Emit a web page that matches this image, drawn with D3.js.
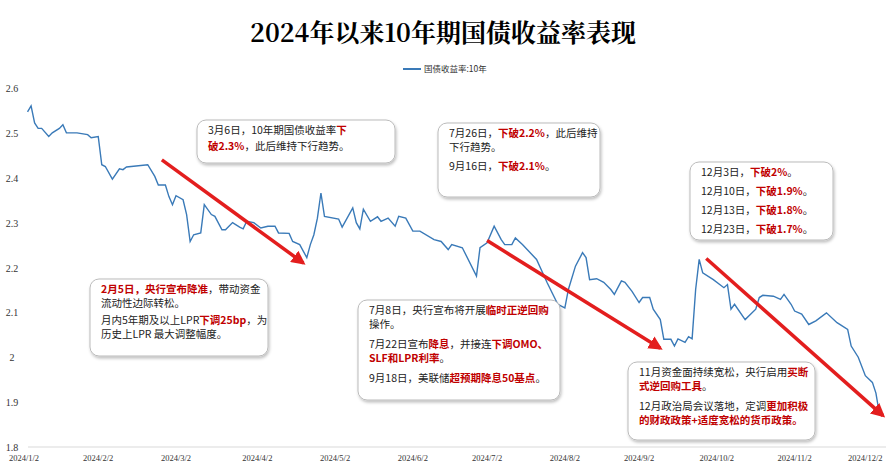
<!DOCTYPE html>
<html><head><meta charset="utf-8">
<script src="https://cdn.jsdelivr.net/npm/d3@7"></script>
<style>body{margin:0;background:#fff}svg{display:block}</style>
</head><body>
<script>
// trading-day index and 10Y yield (%)
const dayIdx = [1,2,3,4,5,7,8,10,11,12,15,18,19,21,22,23,25,27,28,29,35,37,38,40,41,42,43,45,46,47,48,50,51,53,54,56,57,59,61,62,63,65,67,69,71,72,75,76,78,80,81,82,83,84,85,89,90,93,94,95,96,98,100,101,103,105,106,108,110,112,116,118,120,121,124,128,129,131,133,135,136,138,139,141,145,148,151,153,154,156,158,159,160,162,164,166,167,169,170,172,174,175,177,178,180,181,183,184,185,187,188,189,190,191,192,195,198,199,200,201,204,207,208,209,212,214,215,217,218,220,222,224,227,230,233,234,236,238,240,241,242];
const yields = [2.547,2.56,2.522,2.51,2.51,2.492,2.50,2.51,2.518,2.50,2.50,2.496,2.489,2.492,2.429,2.425,2.397,2.42,2.418,2.424,2.429,2.403,2.384,2.384,2.358,2.34,2.36,2.351,2.318,2.258,2.273,2.277,2.34,2.318,2.314,2.284,2.284,2.30,2.29,2.286,2.303,2.30,2.288,2.292,2.292,2.277,2.276,2.258,2.251,2.222,2.251,2.273,2.31,2.366,2.314,2.308,2.29,2.333,2.30,2.286,2.33,2.303,2.313,2.303,2.310,2.292,2.314,2.31,2.281,2.281,2.262,2.258,2.24,2.251,2.244,2.181,2.244,2.255,2.292,2.262,2.251,2.251,2.266,2.251,2.218,2.166,2.118,2.110,2.151,2.203,2.233,2.222,2.173,2.175,2.167,2.151,2.14,2.17,2.167,2.147,2.122,2.133,2.133,2.107,2.084,2.04,2.04,2.025,2.041,2.033,2.046,2.041,2.151,2.218,2.188,2.173,2.155,2.162,2.107,2.118,2.084,2.107,2.133,2.138,2.136,2.129,2.14,2.118,2.103,2.096,2.073,2.081,2.099,2.077,2.062,2.025,2.0,1.959,1.944,1.92,1.873];
const tickIdx = [0,21,43,66,88,110,131,153,174,196,218,238];
const tickLabels = ["2024/1/2","2024/2/2","2024/3/2","2024/4/2","2024/5/2","2024/6/2","2024/7/2","2024/8/2","2024/9/2","2024/10/2","2024/11/2","2024/12/2"];
const yTicks = [1.8,1.9,2.0,2.1,2.2,2.3,2.4,2.5,2.6];
// arrows: [startIdx, startVal, endIdx, endVal]
const arrows = [[39,2.44,79,2.21],[131,2.26,180,2.02],[193,2.22,243,1.87]];
const R="#c00000";
const boxes = [
 {x:197,y:120,w:198,h:43,lines:[[["3月6日，10年期国债收益率",0],["下",1]],[["破2.3%",1],["，此后维持下行趋势。",0]]],gaps:[0,2]},
 {x:90,y:279,w:178,h:77,lines:[[["2月5日，央行宣布降准",1],["，带动资金",0]],[["流动性边际转松。",0]],[["月内5年期及以上LPR",0],["下调25bp",1],["，为",0]],[["历史上LPR 最大调整幅度。",0]]],gaps:[0,0,3,0]},
 {x:438,y:123,w:162,h:74,lines:[[["7月26日，",0],["下破2.2%",1],["，此后维持",0]],[["下行趋势。",0]],[["9月16日，",0],["下破2.1%",1],["。",0]]],gaps:[0,0,5]},
 {x:690,y:162,w:143,h:78,lines:[[["12月3日，",0],["下破2%",1],["。",0]],[["12月10日，",0],["下破1.9%",1],["。",0]],[["12月13日，",0],["下破1.8%",1],["。",0]],[["12月23日，",0],["下破1.7%",1],["。",0]]],gaps:[0,5,5,5]},
 {x:358,y:300,w:202,h:100,lines:[[["7月8日，央行宣布将开展",0],["临时正逆回购",1]],[["操作。",0]],[["7月22日宣布",0],["降息",1],["，并接连",0],["下调OMO、",1]],[["SLF和LPR利率",1],["。",0]],[["9月18日，美联储",0],["超预期降息50基点",1],["。",0]]],gaps:[0,0,6,0,6]},
 {x:628,y:362,w:187,h:78,lines:[[["11月资金面持续宽松，央行启用",0],["买断",1]],[["式逆回购工具",1],["。",0]],[["12月政治局会议落地，定调",0],["更加积极",1]],[["的财政政策+适度宽松的货币政策。",1]]],gaps:[0,0,6,0]}
];

const W=886,H=462;
const svg=d3.select("body").append("svg").attr("width",W).attr("height",H);
const defs=svg.append("defs");
defs.append("filter").attr("id","sh").html('<feDropShadow dx="1" dy="2" stdDeviation="1.5" flood-color="#000" flood-opacity="0.25"/>');
defs.append("marker").attr("id","ah").attr("viewBox","0 0 10 10").attr("refX",8).attr("refY",5)
 .attr("markerWidth",4).attr("markerHeight",4).attr("orient","auto")
 .append("path").attr("d","M0,0L10,5L0,10z").attr("fill","#e31e1e");

const x=d3.scaleLinear().domain([0,243]).range([24,883]);
const y=d3.scaleLinear().domain([1.8,2.6]).range([447,88]);

svg.append("text").attr("x",443).attr("y",42).attr("text-anchor","middle")
 .attr("font-family","Noto Serif CJK SC, Noto Sans CJK SC").attr("font-weight","bold").attr("font-size",25).text("2024年以来10年期国债收益率表现");
svg.append("line").attr("x1",403).attr("x2",421).attr("y1",69).attr("y2",69).attr("stroke","#3a7ab8").attr("stroke-width",2);
svg.append("text").attr("x",424).attr("y",72).attr("font-family","Noto Sans CJK SC").attr("font-size",8.5).attr("fill","#333").text("国债收益率:10年");

svg.append("line").attr("x1",28).attr("x2",886).attr("y1",y(1.8)).attr("y2",y(1.8)).attr("stroke","#d9d9d9");
svg.selectAll(".yt").data(yTicks).join("text").attr("class","yt").attr("x",12).attr("y",d=>y(d)+4).attr("text-anchor","middle")
 .attr("font-family","Liberation Serif").attr("font-size",10).attr("fill","#333").text(d=>d3.format(".1~f")(d));
svg.selectAll(".xt").data(tickIdx).join("text").attr("class","xt").attr("x",d=>x(d)).attr("y",461).attr("text-anchor","middle")
 .attr("font-family","Liberation Serif").attr("font-size",8.5).attr("fill","#333").text((d,i)=>tickLabels[i]);

const pts=dayIdx.map((d,i)=>[d,yields[i]]);
svg.append("path").datum(pts).attr("fill","none").attr("stroke","#3a7ab8").attr("stroke-width",1.4)
 .attr("d",d3.line().x(d=>x(d[0])).y(d=>y(d[1])));

svg.selectAll(".ar").data(arrows).join("line").attr("class","ar").attr("x1",d=>x(d[0])).attr("y1",d=>y(d[1])).attr("x2",d=>x(d[2])).attr("y2",d=>y(d[3]))
 .attr("stroke","#e31e1e").attr("stroke-width",3.5).attr("marker-end","url(#ah)");

boxes.forEach(b=>{
 const g=svg.append("g");
 g.append("rect").attr("x",b.x).attr("y",b.y).attr("width",b.w).attr("height",b.h).attr("rx",9)
  .attr("fill","#fff").attr("stroke","#bbb").attr("stroke-width",1).attr("filter","url(#sh)");
 let yy=b.y+14;
 b.lines.forEach((ln,i)=>{
  yy+= (i?14:0)+(b.gaps[i]||0);
  const t=g.append("text").attr("x",b.x+11).attr("y",yy).attr("font-family","Noto Sans CJK SC").attr("font-size",10.5);
  ln.forEach(s=>t.append("tspan").attr("fill",s[1]?R:"#222").attr("font-weight",s[1]?"bold":"normal").text(s[0]));
 });
});
</script>
</body></html>
